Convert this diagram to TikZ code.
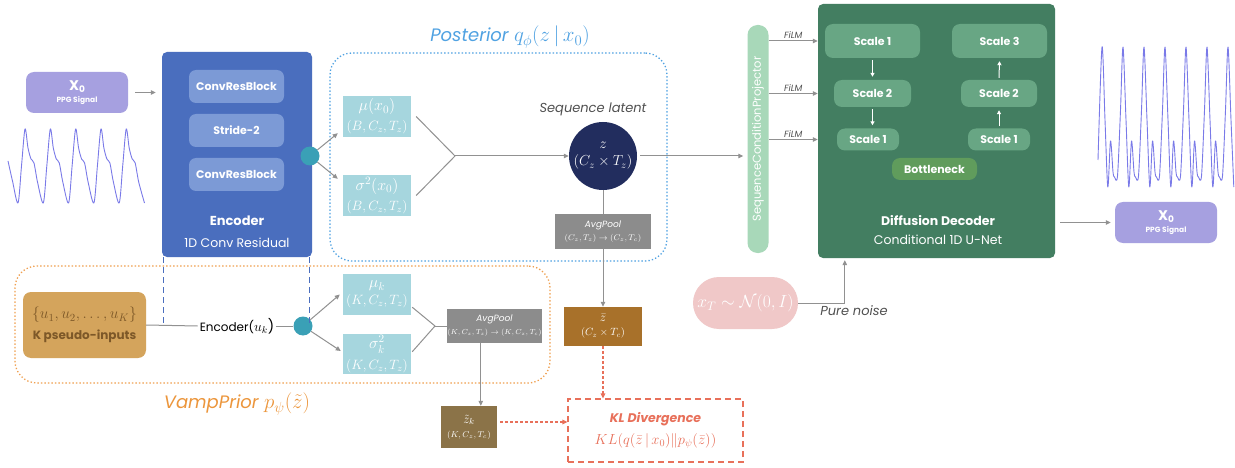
\RequirePackage{fix-cm}
\documentclass[tikz,border=0pt]{standalone}
\usepackage{amsmath}
\usepackage{fontspec}
\setmainfont{Poppins}
\usetikzlibrary{arrows.meta,calc}
\definecolor{lav}{RGB}{166,160,224}
\definecolor{encblue}{RGB}{74,110,190}
\definecolor{encin}{RGB}{124,154,214}
\definecolor{tealdot}{RGB}{58,160,182}
\definecolor{postblue}{RGB}{80,162,226}
\definecolor{lteal}{RGB}{166,214,222}
\definecolor{navy}{RGB}{34,45,94}
\definecolor{pgray}{RGB}{140,140,140}
\definecolor{lgray}{RGB}{145,145,145}
\definecolor{zbarc}{RGB}{168,113,42}
\definecolor{zkc}{RGB}{139,115,72}
\definecolor{klred}{RGB}{232,112,90}
\definecolor{tan}{RGB}{212,164,92}
\definecolor{tantext}{RGB}{125,88,40}
\definecolor{vampor}{RGB}{240,160,80}
\definecolor{vamptext}{RGB}{236,150,60}
\definecolor{sgreen}{RGB}{168,216,185}
\definecolor{dgreen}{RGB}{67,126,97}
\definecolor{scl}{RGB}{104,166,132}
\definecolor{btl}{RGB}{96,156,92}
\definecolor{pinkn}{RGB}{240,200,200}
\definecolor{wavec}{RGB}{122,122,232}
\definecolor{dgraytext}{RGB}{80,80,80}
\begin{document}
\begin{tikzpicture}[x=1pt,y=-1pt,
  gline/.style={draw=lgray, line width=1pt},
  arr/.style={gline, -{Triangle[length=5pt,width=4.5pt]}},
  warr/.style={draw=white, line width=1pt, -{Triangle[length=4pt,width=4pt]}},
  redarr/.style={draw=klred, line width=1.2pt, dash pattern=on 2.5pt off 2.5pt, -{Triangle[length=5pt,width=4.5pt]}},
  blk/.style={inner sep=0pt, align=center, text=white},
  dotnode/.style={circle, fill=tealdot, minimum size=19pt, inner sep=0pt},
  wave/.style={draw=wavec, line width=0.9pt, line join=round},
  scalebox/.style={blk, fill=scl, rounded corners=8pt, font=\fontsize{11}{13}\selectfont\bfseries},
  crbox/.style={blk, fill=encin, rounded corners=7pt, minimum width=95pt, minimum height=33pt, font=\fontsize{11}{13}\selectfont\bfseries},
  film/.style={font=\fontsize{9}{10}\selectfont\itshape, text=dgraytext, inner sep=1.5pt}
]
\fill[white] (0,0) rectangle (1235,468);
\useasboundingbox (0,0) rectangle (1235,468);

% ---------- input ----------
\node[blk, fill=lav, rounded corners=8pt, minimum width=102pt, minimum height=41pt] (xin) at (77,92.5)
  {{\fontsize{14}{14}\selectfont\bfseries X\raisebox{-2pt}{\fontsize{9}{9}\selectfont 0}}\\[0pt]{\fontsize{7.5}{9}\selectfont\bfseries PPG Signal}};
\draw[wave] plot[smooth, tension=0.5] coordinates {(8,161) (12.5,181)
 (18,203) (21.5,166) (25,129) (28,148) (31,159) (34,163) (37.5,182)
 (43.3,203) (46.8,166) (50.3,129) (53.3,148) (56.3,159) (59.3,163) (62.8,182)
 (68.6,203) (72.1,166) (75.6,129) (78.6,148) (81.6,159) (84.6,163) (88.1,182)
 (93.9,203) (97.4,166) (100.9,129) (103.9,148) (106.9,159) (109.9,163) (113.4,182)
 (119.2,203) (122.7,166) (126.2,129) (129.2,148) (132.2,159) (135.2,163) (138.7,182)
 (144.5,203)};

% ---------- encoder ----------
\node[blk, fill=encblue, rounded corners=5pt, minimum width=150pt, minimum height=205pt] (enc) at (237,154.5) {};
\node[crbox] (crb1) at (236.5,86.5) {ConvResBlock};
\node[crbox] (stride) at (236.5,130.5) {Stride-2};
\node[crbox] (crb2) at (236.5,174.5) {ConvResBlock};
\node[blk, font=\fontsize{13}{15}\selectfont\bfseries] (enct) at (237,221) {Encoder};
\node[blk, font=\fontsize{12.5}{15}\selectfont] (encs) at (237,243) {1D Conv Residual};
\draw[arr] ($(xin.east)+(7,0)$) -- ($(enc.west |- xin.east)+(-6,0)$);

% ---------- posterior ----------
\node[draw=postblue, line width=1.3pt, dash pattern=on 1.3pt off 2.2pt, rounded corners=22pt,
      minimum width=337pt, minimum height=208pt, inner sep=0pt] (post) at (498.5,157) {};
\node[text=postblue, font=\fontsize{18}{20}\selectfont\itshape] (postt) at (510,37)
  {Posterior \fontsize{21}{22}\selectfont$q_\phi(z\,|\,x_0)$};
\node[dotnode] (dot1) at (310,156) {};
\node[blk, fill=lteal, minimum width=68pt, minimum height=41pt] (mu) at (377,116.5)
  {{\fontsize{16}{17}\selectfont$\mu(x_0)$}\\[5pt]{\fontsize{13.5}{14}\selectfont$(B, C_z, T_z)$}};
\node[blk, fill=lteal, minimum width=68pt, minimum height=41pt] (sig) at (377,195.5)
  {{\fontsize{16}{17}\selectfont$\sigma^2(x_0)$}\\[5pt]{\fontsize{13.5}{14}\selectfont$(B, C_z, T_z)$}};
\draw[arr] (dot1) -- ($(mu.south west)+(-5,-4)$);
\draw[arr] (dot1) -- ($(sig.north west)+(-5,4)$);
\coordinate (j1) at (455,156);
\node[blk, circle, fill=navy, minimum size=68pt] (z) at (603,156)
  {{\fontsize{15}{16}\selectfont$z$}\\[5pt]{\fontsize{14.5}{15}\selectfont$(C_z\times T_z)$}};
\draw[gline] ($(mu.east)+(5,0)$) -- (j1) -- ($(sig.east)+(5,0)$);
\draw[arr] (j1) -- (z.west);
\node[text=dgraytext, font=\fontsize{13}{15}\selectfont\itshape] (seql) at (593,109) {Sequence latent};
\node[blk, fill=pgray, minimum width=96pt, minimum height=35pt] (ap1) at (603,231.5)
  {{\fontsize{9}{10}\selectfont\itshape AvgPool}\\[1pt]{\fontsize{8.3}{9}\selectfont$(C_z,T_z)\rightarrow(C_z,T_c)$}};
\draw[gline] (z.south) -- (ap1.north);

% ---------- z bar ----------
\node[blk, fill=zbarc, minimum width=78pt, minimum height=39pt] (zbar) at (603,326.5)
  {{\fontsize{12.5}{13}\selectfont$\bar{z}$}\\[2pt]{\fontsize{10.5}{11}\selectfont$(C_z\times T_c)$}};
\draw[arr] (ap1.south) -- (zbar.north);

% ---------- KL ----------
\node[draw=klred, line width=1.2pt, dash pattern=on 6pt off 4pt, minimum width=175pt, minimum height=63pt,
      inner sep=0pt, align=center, text=klred] (kl) at (655.5,430.5)
  {{\fontsize{12.5}{14}\selectfont\bfseries\itshape KL Divergence}\\[6pt]{\fontsize{14.5}{15}\selectfont$KL(q(\bar{z}\,|\,x_0)\|p_\psi(\bar{z}))$}};
\draw[redarr] (zbar.south) -- (zbar.south |- kl.north);

% ---------- VampPrior ----------
\node[draw=vampor, line width=1.3pt, dash pattern=on 1.3pt off 2.2pt, rounded corners=22pt,
      minimum width=535pt, minimum height=117pt, inner sep=0pt] (vamp) at (282.5,324.5) {};
\node[text=vamptext, font=\fontsize{18}{20}\selectfont\itshape] (vampt) at (237,404)
  {VampPrior \fontsize{21}{22}\selectfont$p_\psi(\tilde{z})$};
\node[blk, fill=tan, rounded corners=8pt, minimum width=123pt, minimum height=66pt, text=tantext] (pseudo) at (84.5,325)
  {{\fontsize{15.5}{16}\selectfont$\{u_1, u_2, \ldots, u_K\}$}\\[6pt]{\fontsize{12}{14}\selectfont\bfseries K pseudo-inputs}};
\node[inner sep=2pt, font=\fontsize{12}{14}\selectfont] (encu) at (237,326) {Encoder(\fontsize{14}{14}\selectfont$u_k$)};
\node[dotnode] (dot2) at (303,326) {};
\draw[gline] (pseudo.east) -- (encu.west);
\draw[gline] (encu.east) -- (dot2.west);
\draw[draw=encblue, line width=1.2pt, dash pattern=on 6pt off 4pt] ($(enc.south west)+(2,0)$) -- ($(enc.south west |- encu)+(2,0)$);
\draw[draw=encblue, line width=1.2pt, dash pattern=on 6pt off 4pt] ($(enc.south east)+(-3,0)$) -- ($(enc.south east |- encu)+(-3,0)$);
\node[blk, fill=lteal, minimum width=68pt, minimum height=41pt] (muk) at (377,294.5)
  {{\fontsize{16}{17}\selectfont$\mu_k$}\\[3pt]{\fontsize{13.5}{14}\selectfont$(K, C_z, T_z)$}};
\node[blk, fill=lteal, minimum width=68pt, minimum height=40pt] (sigk) at (377,354)
  {{\fontsize{16}{17}\selectfont$\sigma_k^2$}\\[5pt]{\fontsize{13.5}{14}\selectfont$(K, C_z, T_z)$}};
\draw[arr] (dot2) -- ($(muk.west)+(-3,0)$);
\draw[arr] (dot2) -- ($(sigk.west)+(-2,-3)$);
\node[blk, fill=pgray, minimum width=95pt, minimum height=34pt] (ap2) at (494.5,326)
  {{\fontsize{9}{10}\selectfont\itshape AvgPool}\\[1pt]{\fontsize{7.3}{8}\selectfont$(K,C_z,T_z)\rightarrow(K,C_z,T_c)$}};
\coordinate (j2) at (435,326);
\draw[gline] ($(muk.south east)+(1,-8)$) -- (j2) -- ($(sigk.north east)+(1,18)$);
\draw[gline] (j2) -- (ap2.west);
\node[blk, fill=zkc, minimum width=56pt, minimum height=42pt] (zk) at (469,427)
  {{\fontsize{12.5}{13}\selectfont$\tilde{z}_k$}\\[2pt]{\fontsize{8.5}{9}\selectfont$(K, C_z, T_c)$}};
\draw[arr] ($(ap2.south west)+(34,0)$) -- ($(zk.north west)+(40,0)$);
\draw[redarr] ($(zk.east)+(3,-5)$) -- ($(zk.east -| kl.west)+(0,-5)$);

% ---------- projector & decoder ----------
\node[blk, fill=sgreen, rounded corners=10pt, rotate=90, minimum width=228pt, minimum height=21pt,
      font=\fontsize{11.5}{13}\selectfont] (scp) at (758,139) {SequenceConditionProjector};
\draw[arr] ($(z.east)+(3,0)$) -- ($(z.east -| scp.north)+(-4,0)$);
\node[blk, fill=dgreen, rounded corners=5pt, minimum width=237pt, minimum height=254pt] (dec) at (936.5,131) {};
\node[scalebox, minimum width=95pt, minimum height=34pt] (s1) at (872.5,41) {Scale 1};
\node[scalebox, minimum width=77pt, minimum height=27pt] (s2) at (872.5,93.5) {Scale 2};
\node[scalebox, minimum width=62pt, minimum height=22pt] (s1b) at (868,139.5) {Scale 1};
\node[scalebox, minimum width=95pt, minimum height=34pt] (s3) at (999.5,41) {Scale 3};
\node[scalebox, minimum width=76pt, minimum height=27pt] (s2r) at (999,93.5) {Scale 2};
\node[scalebox, minimum width=62pt, minimum height=22pt] (s1r) at (999,139.5) {Scale 1};
\node[blk, fill=btl, rounded corners=8pt, minimum width=85pt, minimum height=22pt,
      font=\fontsize{11}{13}\selectfont\bfseries] (btn) at (934.5,169) {Bottleneck};
\draw[warr] ($(s1.south)+(0,2)$) -- ($(s2.north)+(0,-3)$);
\draw[warr] ($(s2.south)+(0,2)$) -- ($(s2.south |- s1b.north)+(0,-3)$);
\draw[warr] ($(s1r.north)+(0,-2)$) -- ($(s2r.south)+(0,3)$);
\draw[warr] ($(s2r.north)+(0,-2)$) -- ($(s3.south)+(0,3)$);
\node[blk, font=\fontsize{12.5}{15}\selectfont\bfseries] (dect) at (938,221) {Diffusion Decoder};
\node[blk, font=\fontsize{12.5}{15}\selectfont] (decs) at (938,240) {Conditional 1D U-Net};
\draw[arr] (s1.west -| scp.south) -- node[film, above] {FiLM} (s1.west -| dec.west);
\draw[arr] (s2.west -| scp.south) -- node[film, above] {FiLM} (s2.west -| dec.west);
\draw[arr] (s1b.west -| scp.south) -- node[film, above] {FiLM} (s1b.west -| dec.west);

% ---------- noise ----------
\node[blk, fill=pinkn, rounded corners=26pt, minimum width=105pt, minimum height=52pt,
      font=\fontsize{17.5}{18}\selectfont] (noise) at (745.5,303) {$x_T\sim\mathcal{N}(0,I)$};
\draw[arr] (noise.east) -| ($(dec.south west)+(27,2)$);
\node[text=dgraytext, font=\fontsize{13}{15}\selectfont\itshape] (pn) at (854,311) {Pure noise};

% ---------- output ----------
\node[blk, fill=lav, rounded corners=8pt, minimum width=102pt, minimum height=41pt] (xout) at (1166,222.5)
  {{\fontsize{14}{14}\selectfont\bfseries X\raisebox{-2pt}{\fontsize{9}{9}\selectfont 0}}\\[0pt]{\fontsize{7.5}{9}\selectfont\bfseries PPG Signal}};
\draw[arr] ($(dec.east |- xout.west)+(5,0)$) -- ($(xout.west)+(-4,0)$);
\draw[wave] plot[smooth, tension=0.5] coordinates {(1098,160)
 (1102,47) (1105,120) (1107.8,187) (1110.5,141) (1113,172) (1114.5,177) (1117.5,176) (1120.5,110)
 (1123,47) (1126,120) (1128.8,187) (1131.5,141) (1134,172) (1135.5,177) (1138.5,176) (1141.5,110)
 (1144,47) (1147,120) (1149.8,187) (1152.5,141) (1155,172) (1156.5,177) (1159.5,176) (1162.5,110)
 (1165,47) (1168,120) (1170.8,187) (1173.5,141) (1176,172) (1177.5,177) (1180.5,176) (1183.5,110)
 (1186,47) (1189,120) (1191.8,187) (1194.5,141) (1197,172) (1198.5,177) (1201.5,176) (1204.5,110)
 (1207,47) (1210,120) (1212.8,187) (1215.5,141) (1218,172) (1219.5,177) (1222.5,176) (1225.5,110)
 (1228,47) (1231,120) (1233.8,187)};
\end{tikzpicture}
\end{document}
